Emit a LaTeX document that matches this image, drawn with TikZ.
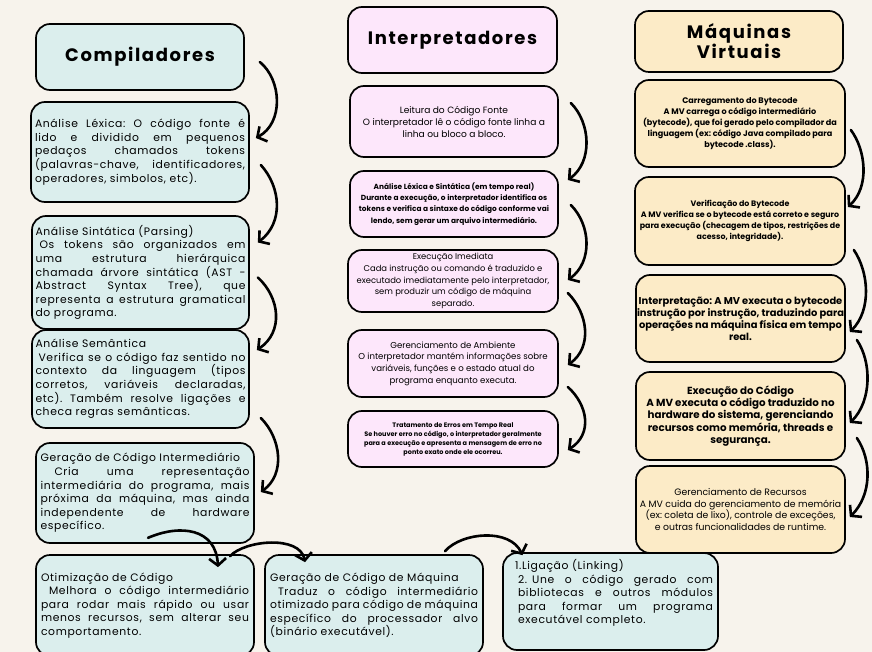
\documentclass[tikz,border=0pt]{standalone}
\usepackage{fontspec}
\setmainfont{Poppins}
\newfontfamily\titlef{Poppins}[LetterSpace=9]
\newfontfamily\bodyf{Poppins}[LetterSpace=6]
\usetikzlibrary{arrows.meta}
\definecolor{bg}{HTML}{F7F3EC}
\definecolor{ccyan}{HTML}{DBEEED}
\definecolor{cpink}{HTML}{FDE7FB}
\definecolor{cyel}{HTML}{FCEBC7}
\frenchspacing
\begin{document}
\begin{tikzpicture}[x=1pt,y=-1pt,
  box/.style={draw=black,line width=1.7pt,rounded corners=14pt,inner sep=0pt},
  cbox/.style={box,fill=ccyan,align=justify,font=\bodyf\fontsize{10.8}{13.6}\selectfont\frenchspacing},
  pbox/.style={box,fill=cpink,align=center},
  ybox/.style={box,fill=cyel,align=center},
  ttl/.style={font=\titlef\bfseries\fontsize{18}{20}\selectfont,align=center},
  arr/.style={line width=2.6pt,line cap=round,-{Straight Barb[length=7pt,width=17pt]}}
]
\fill[bg] (0,0) rectangle (872,652);
\useasboundingbox (0,0) rectangle (872,652);

% ---------- Compiladores ----------
\node[box,fill=ccyan,ttl,minimum width=208pt,minimum height=66pt] (comp) at (140,57) {Compiladores};
\node[cbox,text width=210pt,minimum width=218pt,minimum height=100pt] (lex) at (140,152)
 {Análise Léxica: O código fonte é\linebreak lido e dividido em pequenos\linebreak pedaços chamados tokens\linebreak (palavras-chave, identificadores,\linebreak operadores, simbolos, etc).};
\node[cbox,text width=210pt,minimum width=217pt,minimum height=113pt] (sint) at (140.5,272.5)
 {Análise Sintática (Parsing)\\\hspace*{4pt}Os tokens são organizados em\linebreak uma estrutura hierárquica\linebreak chamada árvore sintática (AST -\linebreak Abstract Syntax Tree), que\linebreak representa a estrutura gramatical\linebreak do programa.};
\node[cbox,text width=210pt,minimum width=217pt,minimum height=98pt] (sem) at (140.5,379)
 {Análise Semântica\\\hspace*{3pt}Verifica se o código faz sentido no\linebreak contexto da linguagem (tipos\linebreak corretos, variáveis declaradas,\linebreak etc). Também resolve ligações e\linebreak checa regras semânticas.};
\node[cbox,text width=209pt,minimum width=218pt,minimum height=100pt] (inter) at (145,493)
 {Geração de Código Intermediário\\\hspace*{14pt}Cria uma representação\linebreak intermediária do programa, mais\linebreak próxima da máquina, mas ainda\linebreak independente de hardware\linebreak específico.};
\node[cbox,text width=208pt,minimum width=218pt,minimum height=101pt] (otim) at (145,605.5)
 {Otimização de Código\\\hspace*{8pt}Melhora o código intermediário\linebreak para rodar mais rápido ou usar\linebreak menos recursos, sem alterar seu\linebreak comportamento.};
\node[cbox,text width=208pt,minimum width=218pt,minimum height=101pt] (maq) at (374,605.5)
 {Geração de Código de Máquina\\\hspace*{8pt}Traduz o código intermediário\linebreak otimizado para código de máquina\linebreak específico do processador alvo\linebreak (binário executável).};
\node[cbox,text width=205pt,minimum width=215pt,minimum height=97pt] (lig) at (610.5,601.5)
 {\hspace*{7pt}1.Ligação (Linking)\\{\hangindent=10pt\hangafter=1 2.\hspace{5pt}Une o código gerado com\linebreak bibliotecas e outros módulos\linebreak para formar um programa\linebreak executável completo.\par}\rule{0pt}{16pt}};

% ---------- Interpretadores ----------
\node[box,fill=cpink,ttl,minimum width=209pt,minimum height=66pt] (interp) at (452.5,40) {Interpretadores};
\node[pbox,minimum width=208pt,minimum height=71pt,font=\fontsize{9.1}{12}\selectfont] (leit) at (454,121.5)
 {Leitura do Código Fonte\\O interpretador lê o código fonte linha a\\linha ou bloco a bloco.};
\node[pbox,minimum width=208pt,minimum height=66pt,font=\bfseries\fontsize{7.4}{11.2}\selectfont] (lexs) at (454,204)
 {Análise Léxica e Sintática (em tempo real)\\Durante a execução, o interpretador identifica os\\tokens e verifica a sintaxe do código conforme vai\\lendo, sem gerar um arquivo intermediário.};
\node[pbox,minimum width=210pt,minimum height=62pt,font=\fontsize{8.4}{11.7}\selectfont] (exec) at (453,281)
 {Execução Imediata\\Cada instrução ou comando é traduzido e\\executado imediatamente pelo interpretador,\\sem produzir um código de máquina\\separado.};
\node[pbox,minimum width=210pt,minimum height=67pt,font=\fontsize{8.6}{11.7}\selectfont] (ger) at (453,363.5)
 {Gerenciamento de Ambiente\\O interpretador mantém informações sobre\\variáveis, funções e o estado atual do\\programa enquanto executa.};
\node[pbox,minimum width=210pt,minimum height=56pt,font=\bfseries\fontsize{6.5}{9}\selectfont] (trat) at (453,439)
 {Tratamento de Erros em Tempo Real\\Se houver erro no código, o interpretador geralmente\\para a execução e apresenta a mensagem de erro no\\ponto exato onde ele ocorreu.};

% ---------- Maquinas Virtuais ----------
\node[box,fill=cyel,ttl,minimum width=208pt,minimum height=61pt] (mv) at (739,41.5) {Máquinas\\Virtuais};
\node[ybox,minimum width=210pt,minimum height=87pt,font=\bfseries\fontsize{8.1}{11}\selectfont] (carr) at (740,123.5)
 {Carregamento do Bytecode\\A MV carrega o código intermediário\\(bytecode), que foi gerado pelo compilador da\\linguagem (ex: código Java compilado para\\bytecode .class).};
\node[ybox,minimum width=210pt,minimum height=88pt,font=\bfseries\fontsize{7.9}{11}\selectfont] (verif) at (740,221)
 {Verificação do Bytecode\\A MV verifica se o bytecode está correto e seguro\\para execução (checagem de tipos, restrições de\\acesso, integridade).};
\node[ybox,minimum width=209pt,minimum height=87pt,font=\bfseries\fontsize{9.9}{12}\selectfont] (imv) at (740.5,318.5)
 {Interpretação: A MV executa o bytecode\\instrução por instrução, traduzindo para\\operações na máquina física em tempo\\real.};
\node[ybox,minimum width=209pt,minimum height=88pt,font=\bfseries\fontsize{10.3}{12.3}\selectfont] (emv) at (740.5,416)
 {Execução do Código\\A MV executa o código traduzido no\\hardware do sistema, gerenciando\\recursos como memória, threads e\\segurança.};
\node[ybox,minimum width=209pt,minimum height=87pt,font=\fontsize{9.3}{11.7}\selectfont] (gmv) at (740.5,509.5)
 {Gerenciamento de Recursos\\A MV cuida do gerenciamento de memória\\(ex: coleta de lixo), controle de exceções,\\e outras funcionalidades de runtime.};

% ---------- arrows: Compiladores ----------
\draw[arr] ([shift={(15,5)}]comp.east) .. controls +(22,18) and +(28,-15) .. ([shift={(6,-14)}]lex.east);
\draw[arr] ([shift={(11,13)}]lex.east) .. controls +(20,22) and +(26,-20) .. ([shift={(8,-30)}]sint.east);
\draw[arr] ([shift={(8,5)}]sint.east) .. controls +(22,20) and +(27,-18) .. ([shift={(7,-29)}]sem.east);
\draw[arr] ([shift={(11,39)}]sem.east) .. controls +(20,20) and +(25,-18) .. ([shift={(6,-1)}]inter.east);
\draw[arr] ([shift={(3,-6)}]inter.south) .. controls (180,524) and (216,528) .. ([shift={(73,13)}]otim.north);
\draw[arr] ([shift={(85,2)}]otim.north) .. controls (245,540) and (300,535) .. ([shift={(-69,8)}]maq.north);
\draw[arr] ([shift={(71,-3)}]maq.north) .. controls (462,532) and (510,528) .. ([shift={(-88,3)}]lig.north);

% ---------- arrows: Interpretadores ----------
\draw[arr] ([shift={(12,-18.5)}]leit.east) .. controls +(20,20) and +(25,-18) .. ([shift={(9,-24)}]lexs.east);
\draw[arr] ([shift={(12,1)}]lexs.east) .. controls +(20,20) and +(25,-18) .. ([shift={(9,-1)}]exec.east);
\draw[arr] ([shift={(9,12)}]exec.east) .. controls +(20,20) and +(25,-18) .. ([shift={(9,1.5)}]ger.east);
\draw[arr] ([shift={(9,23.5)}]ger.east) .. controls +(20,18) and +(25,-16) .. ([shift={(9,11)}]trat.east);

% ---------- arrows: MV ----------
\draw[arr] ([shift={(5,6.5)}]carr.east) .. controls +(15,20) and +(22,-20) .. ([shift={(2,-14)}]verif.east);
\draw[arr] ([shift={(8,29)}]verif.east) .. controls +(15,22) and +(22,-22) .. ([shift={(4,13.5)}]imv.east);
\draw[arr] ([shift={(11,21.5)}]imv.east) .. controls +(15,22) and +(22,-22) .. ([shift={(4,7)}]emv.east);
\draw[arr] ([shift={(11,22)}]emv.east) .. controls +(15,22) and +(22,-22) .. ([shift={(4,7.5)}]gmv.east);
\end{tikzpicture}
\end{document}
